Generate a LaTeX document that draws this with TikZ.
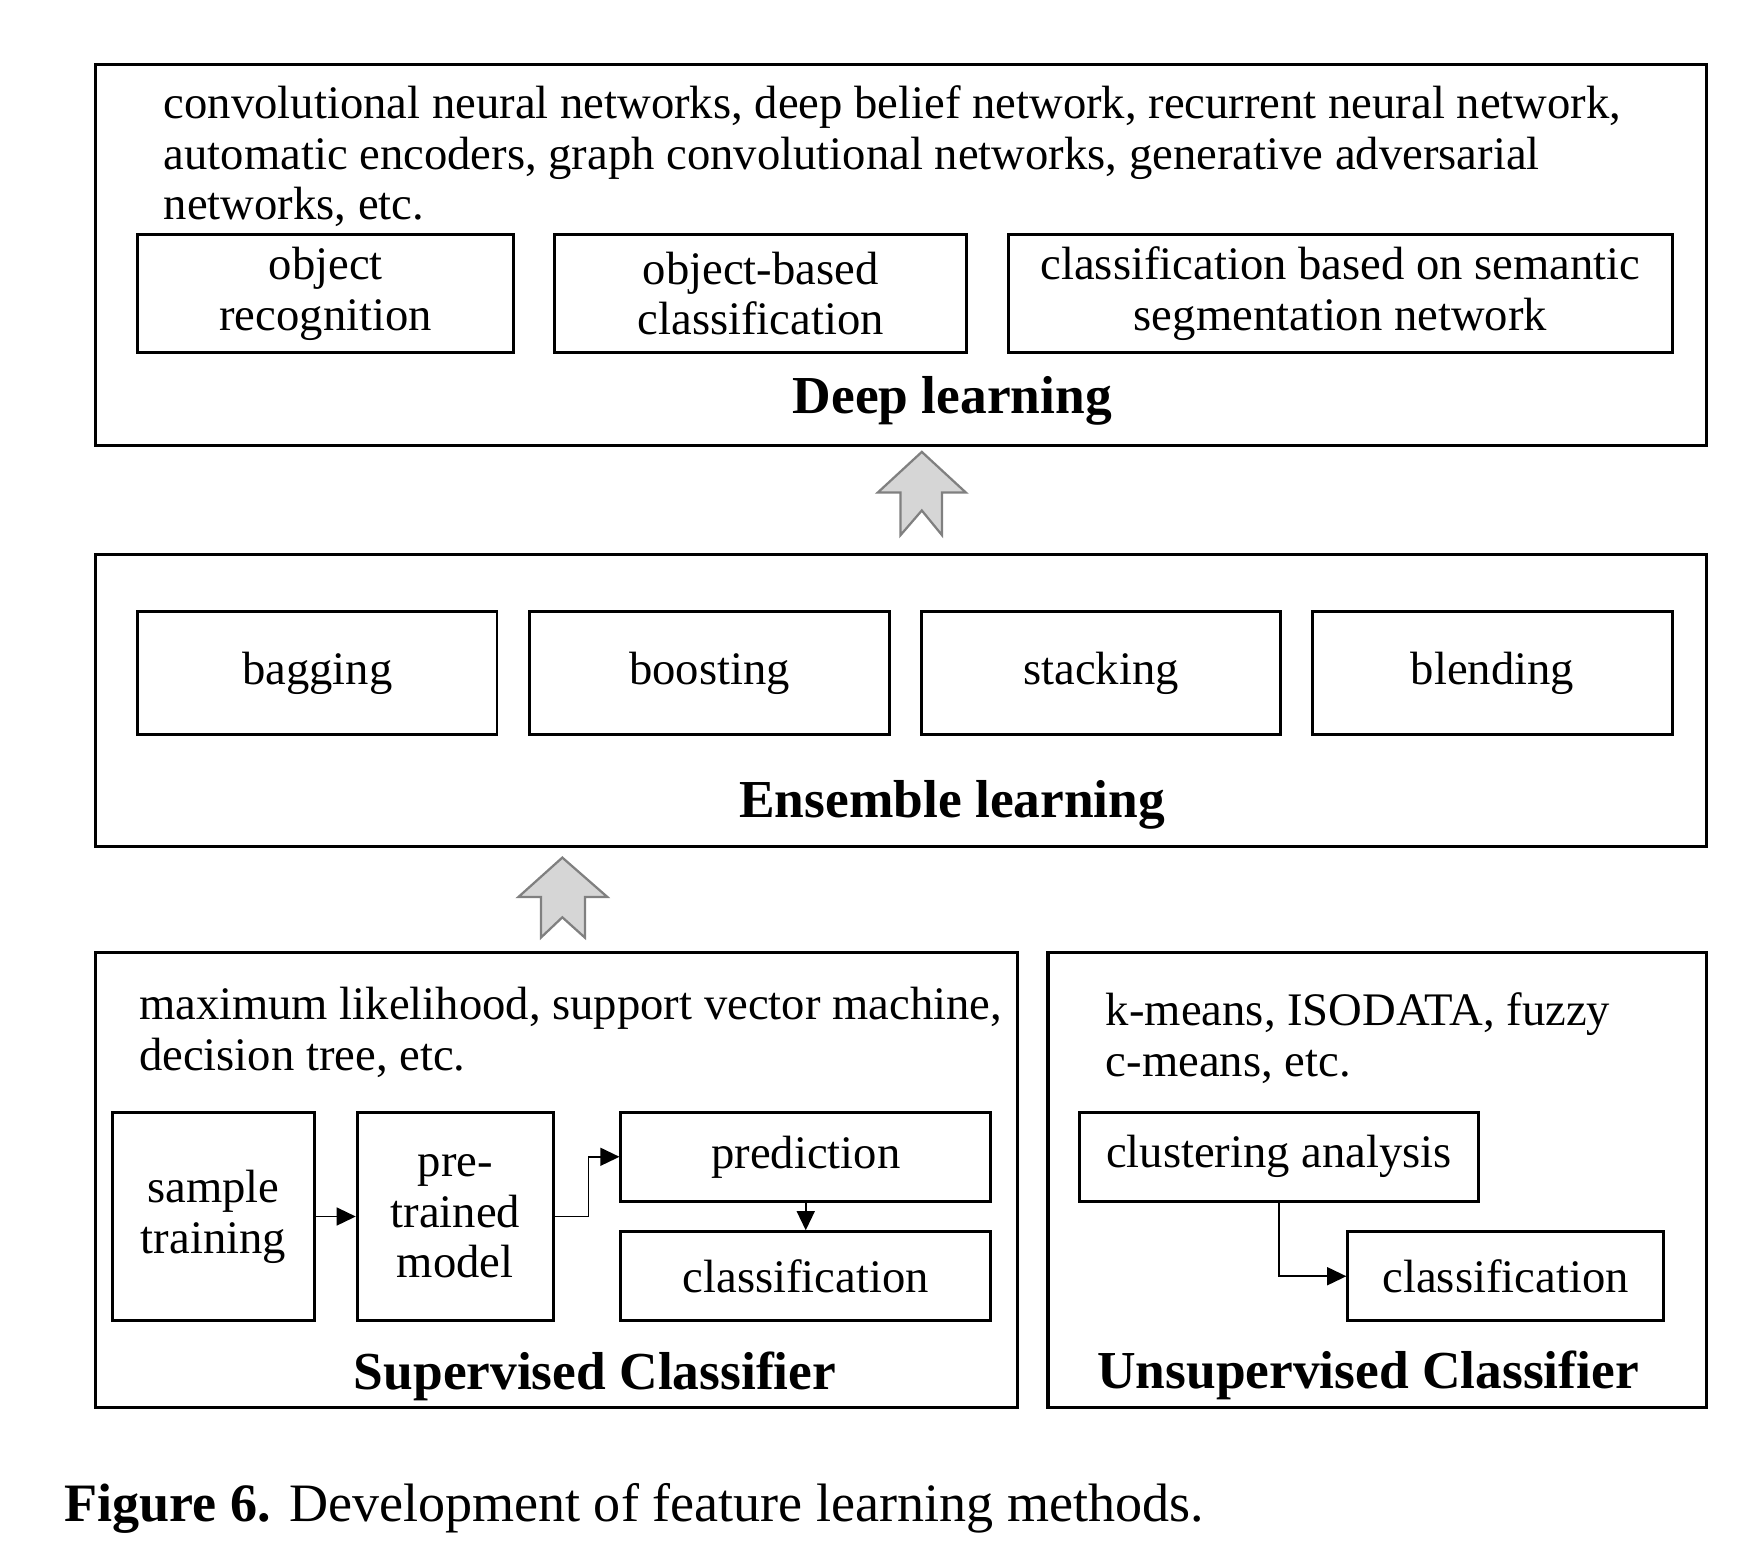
\documentclass[tikz,border=0pt]{standalone}
\usepackage{fontspec}
\setmainfont{Liberation Serif}
\usetikzlibrary{arrows.meta}
\newcommand\bodyfont{\fontsize{20.7}{22.5}\selectfont}
\newcommand\titlefont{\fontsize{23.7}{27}\selectfont\bfseries}
\newcommand\capfont{\fontsize{24}{28}\selectfont}
\begin{document}
\begin{tikzpicture}[x=0.5pt,y=-0.5pt,
  outerbox/.style={draw,line width=1.4pt,inner sep=0pt},
  box/.style={draw,line width=1.3pt,inner sep=0pt,align=center,font=\bodyfont},
  txt/.style={anchor=base west,inner sep=0pt,font=\bodyfont},
  ttl/.style={anchor=base,inner sep=0pt,font=\titlefont},
  conn/.style={line width=0.7pt,-{Triangle[length=8.5pt,width=8pt]}},
  blk/.style={fill=black!16,draw=black!50,line width=1pt,line join=miter}]
\useasboundingbox (0,0) rectangle (1560,1375);
% Deep learning
\node[outerbox,minimum width=714.5pt,minimum height=169pt] (dl) at (799.5,226) {};
\node[txt] (dlt1) at (145,105) {convolutional neural networks, deep belief network, recurrent neural network,};
\node[txt] (dlt2) at (145,150.5) {automatic encoders, graph convolutional networks, generative adversarial};
\node[txt] (dlt3) at (145,195) {networks, etc.};
\node[box,minimum width=167pt,minimum height=52.5pt] (orec) at (289,260.5) {object\\recognition};
\node[box,minimum width=183pt,minimum height=52.5pt] (obc) at (675,260.5) {object-based\\classification};
\node[box,minimum width=294.5pt,minimum height=52.5pt] (cseg) at (1189.5,260.5) {classification based on semantic\\segmentation network};
\node[ttl] (dlttl) at (845,367) {Deep learning};
% arrow 1
\draw[blk] (818,401) -- (857,437) -- (836,437) -- (836,475) -- (818,453) -- (799,475) -- (799,437) -- (779,437) -- cycle;
% Ensemble learning
\node[outerbox,minimum width=714.5pt,minimum height=129.5pt] (el) at (799.5,621.5) {};
\node[box,minimum width=159.5pt,minimum height=54.5pt] (bag) at (281.5,597.5) {bagging};
\node[box,minimum width=159.5pt,minimum height=54.5pt] (boo) at (629.5,597.5) {boosting};
\node[box,minimum width=159.5pt,minimum height=54.5pt] (sta) at (977,597.5) {stacking};
\node[box,minimum width=159.5pt,minimum height=54.5pt] (ble) at (1324.5,597.5) {blending};
\node[ttl] (elttl) at (845,725) {Ensemble learning};
% arrow 2
\draw[blk] (499,761) -- (539,796) -- (519,796) -- (519,832) -- (499,814) -- (480,832) -- (480,796) -- (460,796) -- cycle;
% Supervised
\node[outerbox,minimum width=409pt,minimum height=202pt] (sup) at (494,1047) {};
\node[txt] (supt1) at (123,905) {maximum likelihood, support vector machine,};
\node[txt] (supt2) at (123,950) {decision tree, etc.};
\node[box,minimum width=89.5pt,minimum height=92.5pt] (st) at (189.5,1079.5) {sample\\training};
\node[box,minimum width=87pt,minimum height=92.5pt] (ptm) at (404,1079.5) {pre-\\trained\\model};
\node[box,minimum width=164pt,minimum height=39.5pt] (pred) at (715,1026.5) {prediction};
\node[box,minimum width=164pt,minimum height=39.5pt] (cls1) at (715,1132.5) {classification};
\node[ttl] (supttl) at (528,1233) {Supervised Classifier};
\draw[conn] (st.east) -- (ptm.west);
\draw[conn] (ptm.east) -- ++(30,0) |- (pred.west);
\draw[conn] (pred.south) -- (cls1.north);
% Unsupervised
\node[outerbox,minimum width=292pt,minimum height=202pt] (uns) at (1222,1047) {};
\node[txt] (unst1) at (981,910) {k-means, ISODATA, fuzzy};
\node[txt] (unst2) at (981,955) {c-means, etc.};
\node[box,minimum width=177pt,minimum height=39.5pt] (clu) at (1135,1026.5) {clustering analysis};
\node[box,minimum width=140pt,minimum height=39.5pt] (cls2) at (1336,1132.5) {classification};
\node[ttl] (unsttl) at (1214,1232) {Unsupervised Classifier};
\draw[conn] (clu.south) |- (cls2.west);
% caption
\node[anchor=base west,inner sep=0pt,font=\capfont] (cap) at (57,1350) {\textbf{Figure 6.} Development of feature learning methods.};
\end{tikzpicture}
\end{document}
